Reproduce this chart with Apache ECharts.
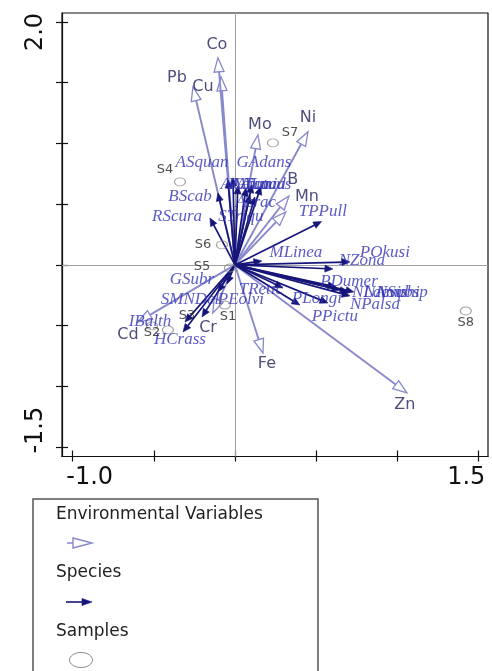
<!DOCTYPE html>
<html>
<head>
<meta charset="utf-8">
<script src="https://cdn.jsdelivr.net/npm/echarts@6/dist/echarts.min.js"></script>
<style>
  html, body { margin: 0; padding: 0; background: #fff; }
  #chart { width: 492px; height: 671px; }
</style>
</head>
<body>
<div id="chart"></div>
<script>
// Environmental variables: arrow tips and label anchors (axis units)
const envNames  = ['Co', 'Cu', 'Pb', 'Mo', 'Ni', 'B', 'Mn', 'Cr', 'Cd', 'Fe', 'Zn'];
const envX      = [-0.105, -0.086, -0.259, 0.142, 0.450, 0.333, 0.314, -0.136, -0.598, 0.173, 1.060];
const envY      = [1.705, 1.549, 1.466, 1.071, 1.096, 0.568, 0.437, -0.395, -0.470, -0.725, -1.054];
const envLabelX = [-0.111, -0.197, -0.357, 0.154, 0.450, 0.357, 0.444, -0.166, -0.659, 0.197, 1.047];
const envLabelY = [1.812, 1.466, 1.540, 1.153, 1.211, 0.700, 0.560, -0.519, -0.577, -0.816, -1.153];

// Species: arrow tips and label anchors
const spNames  = ['ASquan', 'GAdans', 'BScab', 'RScura', 'Acrac', 'STriqu',
                  'AAcicu', 'PAcutu', 'CTumid', 'ALacus',
                  'TPPull', 'MLinea', 'POkusi', 'NZona', 'PDumer',
                  'NLaevis', 'NAmphi', 'NSubsp', 'NPalsa', 'PLongi', 'PPictu', 'TRetic',
                  'GSubr', 'SMNDel', 'PEolvi', 'IBalth', 'HCrass'];
const spX      = [-0.043, -0.012, -0.105, -0.154, 0.092, 0.123,
                  0.018, 0.068, 0.105, 0.160,
                  0.534, 0.166, 0.709, 0.604, 0.622,
                  0.647, 0.696, 0.733, 0.709, 0.573, 0.400, 0.296,
                  -0.105, -0.203, -0.049, -0.308, -0.320];
const spY      = [0.700, 0.717, 0.593, 0.387, 0.577, 0.560,
                  0.651, 0.634, 0.660, 0.645,
                  0.357, 0.033, 0.025, -0.033, -0.181,
                  -0.206, -0.222, -0.222, -0.255, -0.313, -0.330, -0.189,
                  -0.222, -0.428, -0.157, -0.470, -0.552];
const spLabelX = [-0.203, 0.179, -0.277, -0.357, 0.129, 0.037,
                  0.062, 0.105, 0.148, 0.191,
                  0.542, 0.376, 0.924, 0.782, 0.703,
                  0.893, 0.967, 1.029, 0.863, 0.505, 0.616, 0.160,
                  -0.265, -0.277, 0.037, -0.524, -0.339];
const spLabelY = [0.840, 0.840, 0.560, 0.395, 0.511, 0.395,
                  0.659, 0.659, 0.659, 0.659,
                  0.437, 0.099, 0.099, 0.033, -0.140,
                  -0.231, -0.231, -0.231, -0.329, -0.280, -0.428, -0.206,
                  -0.124, -0.288, -0.288, -0.470, -0.618];

// Samples: site scores and label anchors
const sampleNames  = ['S1', 'S2', 'S3', 'S4', 'S5', 'S6', 'S7', 'S8'];
const sampleX      = [-0.062, -0.413, -0.511, -0.339, -0.031, -0.080, 0.234, 1.423];
const sampleY      = [-0.330, -0.535, -0.502, 0.684, -0.025, 0.165, 1.005, -0.379];
const sampleLabelX = [-0.043, -0.511, -0.296, -0.431, -0.203, -0.197, 0.339, 1.423];
const sampleLabelY = [-0.428, -0.560, -0.420, 0.783, -0.016, 0.165, 1.087, -0.478];

// Axes
const xRange = [-1.066, 1.56];
const yRange = [-1.577, 2.074];
const xTicks = [-1.0, -0.5, 0, 0.5, 1.0, 1.5];
const xTickLabels = [-1.0, 1.5];
const yTicks = [-1.5, -1.0, -0.5, 0, 0.5, 1.0, 1.5, 2.0];
const yTickLabels = [-1.5, 2.0];

const ENV_COLOR = '#8888cc';
const SP_COLOR = '#16167a';
const SANS = '"DejaVu Sans", "Liberation Sans", sans-serif';

function arrowRenderer(o) {
  return function (params, api) {
    const a = api.coord([0, 0]);
    const p = api.coord([api.value(0), api.value(1)]);
    const dx = p[0] - a[0], dy = p[1] - a[1];
    const len = Math.sqrt(dx * dx + dy * dy) || 1;
    const ux = dx / len, uy = dy / len;
    const bx = p[0] - ux * o.headLen, by = p[1] - uy * o.headLen;
    const nx = -uy * o.headHalf, ny = ux * o.headHalf;
    const end = o.filled ? [p[0] - ux * o.headLen * 0.6, p[1] - uy * o.headLen * 0.6] : [bx, by];
    return {
      type: 'group',
      children: [
        { type: 'line', shape: { x1: a[0], y1: a[1], x2: end[0], y2: end[1] },
          style: { stroke: o.color, lineWidth: o.width } },
        { type: 'polygon',
          shape: { points: [[p[0], p[1]], [bx + nx, by + ny], [bx - nx, by - ny]] },
          style: { fill: o.filled ? o.color : 'rgba(255,255,255,0)', stroke: o.color,
                   lineWidth: o.filled ? 0.6 : 1.3, lineJoin: 'miter' } }
      ]
    };
  };
}

function labelSeries(names, xs, ys, textStyle) {
  return {
    type: 'scatter',
    symbol: 'circle',
    symbolSize: 0,
    itemStyle: { color: 'rgba(0,0,0,0)' },
    silent: true,
    data: names.map((n, i) => ({ name: n, value: [xs[i], ys[i]] })),
    label: Object.assign({ show: true, position: 'inside', formatter: '{b}' }, textStyle),
    emphasis: { disabled: true },
    z: 5
  };
}

const chart = echarts.init(document.getElementById('chart'), null, { renderer: 'canvas' });

const option = {
  animation: false,
  backgroundColor: '#fff',
  grid: {
    left: 62, top: 13, width: 426, height: 443.5,
    show: true, borderColor: '#111', borderWidth: 1.2, backgroundColor: 'rgba(0,0,0,0)'
  },
  xAxis: [
    {
      type: 'value', min: xRange[0], max: xRange[1], position: 'bottom',
      axisLine: { show: true, onZero: false, lineStyle: { color: '#111', width: 1.2 } },
      axisTick: { show: true, customValues: xTicks, length: 5, lineStyle: { color: '#111', width: 1.2 } },
      axisLabel: {
        customValues: xTickLabels, margin: 9, color: '#111', fontFamily: SANS, fontSize: 24,
        formatter: v => (v < 0 ? '{lo|' : '{hi|') + v.toFixed(1) + '}',
        rich: {
          lo: { fontFamily: SANS, fontSize: 24, color: '#111', padding: [0, 0, 0, 34] },
          hi: { fontFamily: SANS, fontSize: 24, color: '#111', padding: [0, 24, 0, 0] }
        }
      },
      splitLine: { show: false }
    },
    {
      type: 'value', min: xRange[0], max: xRange[1], position: 'bottom',
      axisLine: { show: false, onZero: false },
      axisTick: { show: true, inside: true, customValues: xTicks, length: 6, lineStyle: { color: '#111', width: 1.2 } },
      axisLabel: { show: false },
      splitLine: { show: false }
    }
  ],
  yAxis: [
    {
      type: 'value', min: yRange[0], max: yRange[1], position: 'left',
      axisLine: { show: true, onZero: false, lineStyle: { color: '#111', width: 1.2 } },
      axisTick: { show: true, customValues: yTicks, length: 6, lineStyle: { color: '#111', width: 1.2 } },
      axisLabel: {
        customValues: yTickLabels, rotate: 90, margin: 14, color: '#111', fontFamily: SANS, fontSize: 24,
        formatter: v => (v < 0 ? '{lo|' : '{hi|') + v.toFixed(1) + '}',
        rich: {
          lo: { fontFamily: SANS, fontSize: 24, color: '#111', padding: [0, 0, 0, 34] },
          hi: { fontFamily: SANS, fontSize: 24, color: '#111', padding: [0, 20, 0, 0] }
        }
      },
      splitLine: { show: false }
    },
    {
      type: 'value', min: yRange[0], max: yRange[1], position: 'left',
      axisLine: { show: false, onZero: false },
      axisTick: { show: true, inside: true, customValues: yTicks, length: 6, lineStyle: { color: '#111', width: 1.2 } },
      axisLabel: { show: false },
      splitLine: { show: false }
    }
  ],
  series: [
    {
      name: 'Environmental Variables',
      type: 'custom',
      renderItem: arrowRenderer({ color: ENV_COLOR, width: 1.9, headLen: 14, headHalf: 5, filled: false }),
      data: envX.map((x, i) => [x, envY[i]]),
      encode: { x: 0, y: 1 },
      silent: true,
      z: 2,
      markLine: {
        silent: true,
        symbol: ['none', 'none'],
        label: { show: false },
        lineStyle: { color: '#a0a0a0', width: 1, type: 'solid' },
        data: [{ xAxis: 0 }, { yAxis: 0 }],
        z: 1
      }
    },
    {
      name: 'Species',
      type: 'custom',
      renderItem: arrowRenderer({ color: SP_COLOR, width: 1.7, headLen: 8, headHalf: 3.5, filled: true }),
      data: spX.map((x, i) => [x, spY[i]]),
      encode: { x: 0, y: 1 },
      silent: true,
      z: 3
    },
    {
      name: 'Samples',
      type: 'scatter',
      symbol: 'path://M0,4A6,4 0 1 1 12,4A6,4 0 1 1 0,4Z',
      symbolSize: [11, 8],
      itemStyle: { color: 'rgba(255,255,255,0)', borderColor: '#8a8a8a', borderWidth: 1 },
      data: sampleX.map((x, i) => [x, sampleY[i]]),
      silent: true,
      z: 4
    },
    labelSeries(envNames, envLabelX, envLabelY,
      { color: '#20205a', fontFamily: SANS, fontSize: 16 }),
    labelSeries(spNames, spLabelX, spLabelY,
      { color: '#3232b4', fontFamily: '"Liberation Serif", "DejaVu Serif", serif', fontStyle: 'italic', fontSize: 17 }),
    labelSeries(sampleNames, sampleLabelX, sampleLabelY,
      { color: '#222', fontFamily: SANS, fontSize: 13 })
  ],
  graphic: [
    { type: 'rect', shape: { x: 33, y: 499, width: 285, height: 200 },
      style: { fill: 'rgba(0,0,0,0)', stroke: '#555', lineWidth: 1.5 }, silent: true },
    { type: 'text', x: 56, y: 515, style: { text: 'Environmental Variables', fontFamily: SANS, fontSize: 17,
      fill: '#222', verticalAlign: 'middle' } },
    { type: 'line', shape: { x1: 67, y1: 543, x2: 73, y2: 543 }, style: { stroke: ENV_COLOR, lineWidth: 1.5 } },
    { type: 'polygon', shape: { points: [[73, 538], [73, 548], [92, 543]] },
      style: { fill: 'rgba(255,255,255,0)', stroke: ENV_COLOR, lineWidth: 1.4 } },
    { type: 'text', x: 56, y: 573, style: { text: 'Species', fontFamily: SANS, fontSize: 17,
      fill: '#222', verticalAlign: 'middle' } },
    { type: 'line', shape: { x1: 66, y1: 602, x2: 86, y2: 602 }, style: { stroke: SP_COLOR, lineWidth: 1.6 } },
    { type: 'polygon', shape: { points: [[92, 602], [82, 598.5], [82, 605.5]] },
      style: { fill: SP_COLOR, stroke: SP_COLOR, lineWidth: 0.6 } },
    { type: 'text', x: 56, y: 632, style: { text: 'Samples', fontFamily: SANS, fontSize: 17,
      fill: '#222', verticalAlign: 'middle' } },
    { type: 'ellipse', shape: { cx: 81, cy: 660, rx: 11.5, ry: 7.5 },
      style: { fill: 'rgba(255,255,255,0)', stroke: '#8a8a8a', lineWidth: 1 } }
  ]
};

chart.setOption(option);
</script>
</body>
</html>
